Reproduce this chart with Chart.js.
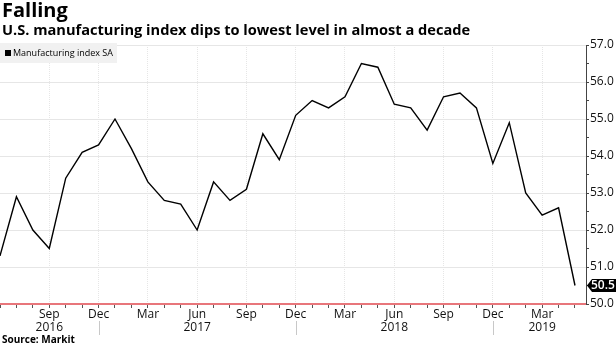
<!DOCTYPE html>
<html>
<head>
<meta charset="utf-8">
<script src="https://cdn.jsdelivr.net/npm/chart.js@4"></script>
<style>
  html, body { margin: 0; padding: 0; background: #fff; }
  #wrap { position: relative; width: 616px; height: 347px; overflow: hidden; font-family: "Open Sans", sans-serif; color: #000; }
  #c { position: absolute; left: 0; top: 0; }
  .t { position: absolute; white-space: nowrap; }
  #title { left: 2px; top: -3px; font-size: 20px; font-weight: 700; line-height: 26px; }
  #subtitle { left: 2px; top: 20px; font-size: 14.6px; font-weight: 700; line-height: 18px; }
  #source { left: 2px; top: 332px; font-size: 10px; font-weight: 700; line-height: 14px; }
  #legend { left: 0; top: 43px; width: 117px; height: 20px; background: #f1f1f1; font-size: 9px; line-height: 20px; }
  #legend .sw { position: absolute; left: 5px; top: 7px; width: 6px; height: 6px; background: #000; }
  #legend .lb { position: absolute; left: 13px; top: 0; }
</style>
</head>
<body>
<div id="wrap">
  <canvas id="c" width="616" height="347"></canvas>
  <div class="t" id="title">Falling</div>
  <div class="t" id="subtitle">U.S. manufacturing index dips to lowest level in almost a decade</div>
  <div class="t" id="legend"><span class="sw"></span><span class="lb">Manufacturing index SA</span></div>
  <div class="t" id="source">Source: Markit</div>
</div>
<script>
// ---- data ----
const categories = [
  '2016-06','2016-07','2016-08','2016-09','2016-10','2016-11','2016-12',
  '2017-01','2017-02','2017-03','2017-04','2017-05','2017-06','2017-07','2017-08','2017-09','2017-10','2017-11','2017-12',
  '2018-01','2018-02','2018-03','2018-04','2018-05','2018-06','2018-07','2018-08','2018-09','2018-10','2018-11','2018-12',
  '2019-01','2019-02','2019-03','2019-04','2019-05'
];
const manufacturingIndex = [
  51.3, 52.9, 52.0, 51.5, 53.4, 54.1, 54.3,
  55.0, 54.2, 53.3, 52.8, 52.7, 52.0, 53.3, 52.8, 53.1, 54.6, 53.9, 55.1,
  55.5, 55.3, 55.6, 56.5, 56.4, 55.4, 55.3, 54.7, 55.6, 55.7, 55.3, 53.8,
  54.9, 53.0, 52.4, 52.6, 50.5
];
const monthNames = ['Jan','Feb','Mar','Apr','May','Jun','Jul','Aug','Sep','Oct','Nov','Dec'];
const labelledMonths = ['Mar','Jun','Sep','Dec'];
const yearLabelAt = ['2016-09','2017-06','2018-06','2019-03'];
const yearSeparatorAt = ['2016-12','2017-12','2018-12'];
const yTicks = [50, 51, 52, 53, 54, 55, 56, 57];
const seriesName = 'Manufacturing index SA';

// ---- helpers ----
function monthOf(i) { return monthNames[parseInt(categories[i].slice(5), 10) - 1]; }
function isLabelled(i) { return i > 0 && labelledMonths.includes(monthOf(i)); }

const points = categories.map((c, i) => ({ x: i, y: manufacturingIndex[i] }));

const extras = {
  id: 'extras',
  afterDraw(chart) {
    const ctx = chart.ctx;
    const xs = chart.scales.x, ys = chart.scales.y, area = chart.chartArea;
    // year separators
    ctx.save();
    ctx.strokeStyle = '#c8c8c8';
    ctx.lineWidth = 1;
    yearSeparatorAt.forEach(c => {
      const i = categories.indexOf(c);
      const x = Math.round(xs.getPixelForValue(i)) + 0.5;
      ctx.beginPath(); ctx.moveTo(x, area.bottom + 17); ctx.lineTo(x, area.bottom + 31); ctx.stroke();
    });
    ctx.restore();
    // last value tag
    const last = manufacturingIndex[manufacturingIndex.length - 1];
    const y = ys.getPixelForValue(last);
    const x0 = area.right + 1;
    ctx.save();
    ctx.fillStyle = '#000';
    ctx.beginPath();
    ctx.moveTo(x0, y);
    ctx.lineTo(x0 + 5, y - 6.5);
    ctx.lineTo(616, y - 6.5);
    ctx.lineTo(616, y + 6.5);
    ctx.lineTo(x0 + 5, y + 6.5);
    ctx.closePath();
    ctx.fill();
    ctx.fillStyle = '#fff';
    ctx.font = '600 12px "Open Sans"';
    ctx.textBaseline = 'middle';
    ctx.textAlign = 'left';
    ctx.fillText(last.toFixed(1), x0 + 4, y + 0.5);
    ctx.restore();
  }
};

new Chart(document.getElementById('c'), {
  type: 'line',
  data: {
    datasets: [{
      label: seriesName,
      data: points,
      borderColor: '#000',
      borderWidth: 1.4,
      pointRadius: 0,
      tension: 0,
      fill: false
    }]
  },
  options: {
    responsive: false,
    devicePixelRatio: 1,
    animation: false,
    layout: { padding: { top: 45, left: 0, right: 0, bottom: 0 } },
    plugins: { legend: { display: false }, tooltip: { enabled: false } },
    scales: {
      x: {
        type: 'linear',
        min: 0,
        max: 35.67,
        afterFit(s) { s.height = 43; },
        afterBuildTicks(s) {
          s.ticks = categories.map((c, i) => ({ value: i }));
        },
        ticks: {
          autoSkip: false,
          maxRotation: 0,
          padding: 0,
          color: '#111',
          font: { family: 'Open Sans', size: 12, lineHeight: 1.1 },
          callback(v) {
            if (!Number.isInteger(v) || !isLabelled(v)) return '';
            const m = monthOf(v);
            if (yearLabelAt.includes(categories[v])) return [m, categories[v].slice(0, 4)];
            return m;
          }
        },
        grid: {
          drawOnChartArea: true,
          color(ctx) { return (ctx.tick && isLabelled(ctx.tick.value)) ? '#e6e6e6' : 'rgba(0,0,0,0)'; },
          tickColor: '#555',
          tickLength: 4,
          lineWidth: 1
        },
        border: { display: true, color: '#e8767b', width: 2, dash: [1, 1] }
      },
      y: {
        position: 'right',
        min: 50,
        max: 57,
        afterFit(s) { s.width = 30; },
        afterBuildTicks(s) {
          const t = [];
          yTicks.forEach((v, k) => { t.push({ value: v }); if (k < yTicks.length - 1) t.push({ value: v + 0.5 }); });
          s.ticks = t;
        },
        ticks: {
          autoSkip: false,
          padding: 1,
          color: '#111',
          font: { family: 'Open Sans', size: 12 },
          callback(v) { return Number.isInteger(v) ? v.toFixed(1) : ''; }
        },
        grid: {
          color(ctx) { return (ctx.tick && Number.isInteger(ctx.tick.value) && ctx.tick.value > 50) ? '#e6e6e6' : 'rgba(0,0,0,0)'; },
          tickColor: '#444',
          tickLength: 3,
          lineWidth: 1
        },
        border: { display: true, color: '#444', width: 1 }
      }
    }
  },
  plugins: [extras]
});
</script>
</body>
</html>
